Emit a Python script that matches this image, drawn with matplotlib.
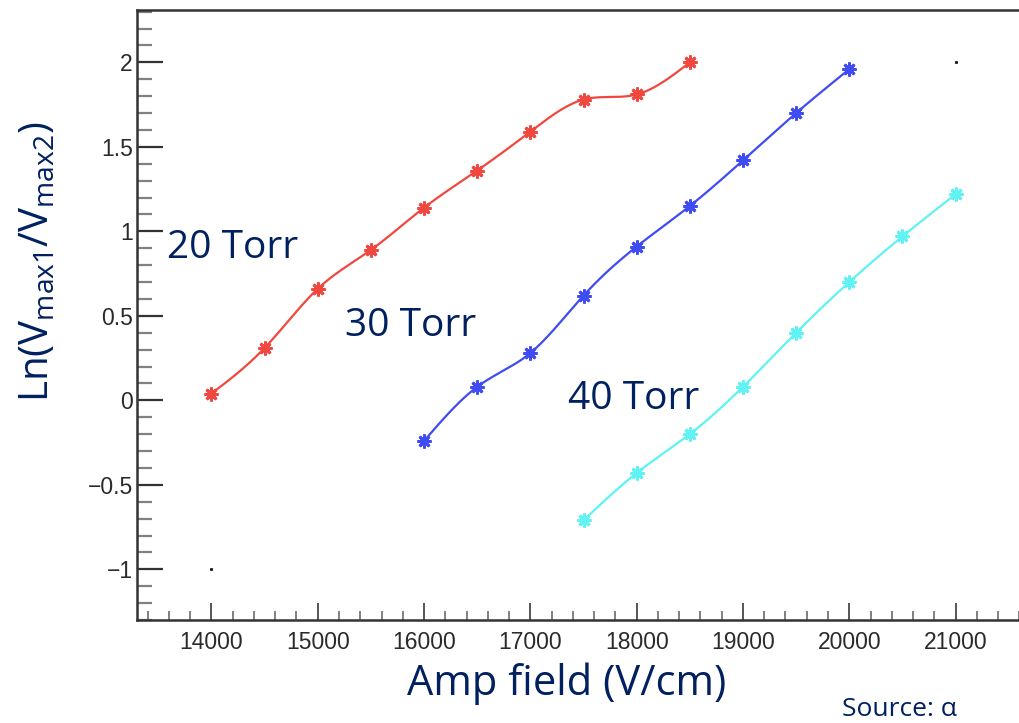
import numpy as np
import matplotlib
matplotlib.use("Agg")
import matplotlib.pyplot as plt
from matplotlib.ticker import MultipleLocator

# gain ratio vs amplification field, three gas pressures
field_20 = [14000, 14500, 15000, 15500, 16000, 16500, 17000, 17500, 18000, 18500]
ln_20 = [0.04, 0.31, 0.66, 0.89, 1.14, 1.36, 1.59, 1.78, 1.81, 2.00]

field_30 = [16000, 16500, 17000, 17500, 18000, 18500, 19000, 19500, 20000]
ln_30 = [-0.24, 0.08, 0.28, 0.62, 0.91, 1.15, 1.42, 1.70, 1.96]

field_40 = [17500, 18000, 18500, 19000, 19500, 20000, 20500, 21000]
ln_40 = [-0.71, -0.43, -0.20, 0.08, 0.40, 0.70, 0.97, 1.22]

labels = ["20 Torr", "30 Torr", "40 Torr"]
NAVY = "#002060"


def smooth(x, y, n=40):
    """natural cubic spline through the points, like ROOT's "C" option"""
    x = np.asarray(x, float)
    y = np.asarray(y, float)
    k = len(x)
    h = np.diff(x)
    A = np.zeros((k, k))
    b = np.zeros(k)
    A[0, 0] = A[-1, -1] = 1.0
    for i in range(1, k - 1):
        A[i, i - 1] = h[i - 1]
        A[i, i] = 2 * (h[i - 1] + h[i])
        A[i, i + 1] = h[i]
        b[i] = 6 * ((y[i + 1] - y[i]) / h[i] - (y[i] - y[i - 1]) / h[i - 1])
    M = np.linalg.solve(A, b)
    xs, ys = [], []
    for i in range(k - 1):
        t = np.linspace(x[i], x[i + 1], n, endpoint=False)
        a = x[i + 1] - t
        c = t - x[i]
        s = (M[i] * a ** 3 + M[i + 1] * c ** 3) / (6 * h[i]) \
            + (y[i] / h[i] - M[i] * h[i] / 6) * a \
            + (y[i + 1] / h[i] - M[i + 1] * h[i] / 6) * c
        xs.append(t)
        ys.append(s)
    xs.append([x[-1]])
    ys.append([y[-1]])
    return np.concatenate(xs), np.concatenate(ys)


fig = plt.figure(figsize=(10.2, 7.23), dpi=100)
# frame runs past the right edge of the canvas
ax = fig.add_axes([137 / 1020, 103 / 723, 893 / 1020, 610 / 723])
ax.set_xlim(13300, 21700)
ax.set_ylim(-1.30, 2.31)

series = [
    (field_20, ln_20, "#f0483f"),
    (field_30, ln_30, "#3f4cf2"),
    (field_40, ln_40, "#5ff3f3"),
]
for xs, ys, col in series:
    sx, sy = smooth(xs, ys)
    ax.plot(sx, sy, color=col, lw=1.6, solid_capstyle="round")
    ax.plot(xs, ys, ls="none", marker=(8, 2, 0), ms=10, mew=2.0, mec=col, mfc=col)

# stray frame points
ax.plot([14000, 21000], [-1, 2], ls="none", marker="s", ms=1.2, color="#222222")

ax.xaxis.set_major_locator(MultipleLocator(1000))
ax.xaxis.set_minor_locator(MultipleLocator(200))
ax.yaxis.set_major_locator(MultipleLocator(0.5))
ax.yaxis.set_minor_locator(MultipleLocator(0.1))
ax.yaxis.set_major_formatter(plt.FuncFormatter(lambda v, p: f"{v:g}".replace("-", "\u2212")))

ax.tick_params(axis="both", which="both", direction="in", top=False, right=False,
               labelsize=16.5, labelcolor="#2a2a2a")
ax.tick_params(axis="y", which="major", length=19, width=1.6, color="#333333", pad=3)
ax.tick_params(axis="y", which="minor", length=11, width=1.6, color="#808080")
ax.tick_params(axis="x", which="major", length=12, width=1.4, color="#555555", pad=8)
ax.tick_params(axis="x", which="minor", length=6.5, width=1.4, color="#808080")
for lab in ax.get_xticklabels() + ax.get_yticklabels():
    lab.set_family("Liberation Sans")
for sp in ax.spines.values():
    sp.set_linewidth(1.8)
    sp.set_color("#333333")

txt = dict(family="Open Sans", color=NAVY)
ax.text(14200, 0.90, labels[0], fontsize=28, ha="center", va="center", **txt)
ax.text(15870, 0.44, labels[1], fontsize=28, ha="center", va="center", **txt)
ax.text(17970, 0.01, labels[2], fontsize=28, ha="center", va="center", **txt)

plt.rcParams["mathtext.fontset"] = "custom"
plt.rcParams["mathtext.rm"] = "Open Sans"
fig.text(38 / 1020, 1 - 262 / 723, r"Ln(V$_{\mathrm{max1}}$/V$_{\mathrm{max2}}$)",
         rotation=90, fontsize=29, ha="center", va="center", **txt)
fig.text(567 / 1020, 1 - 684 / 723, "Amp field (V/cm)", fontsize=30,
         ha="center", va="center", **txt)
fig.text(899 / 1020, 1 - 710 / 723, "Source: \u03b1", fontsize=19,
         ha="center", va="center", **txt)

fig.savefig("out.png", dpi=100)
